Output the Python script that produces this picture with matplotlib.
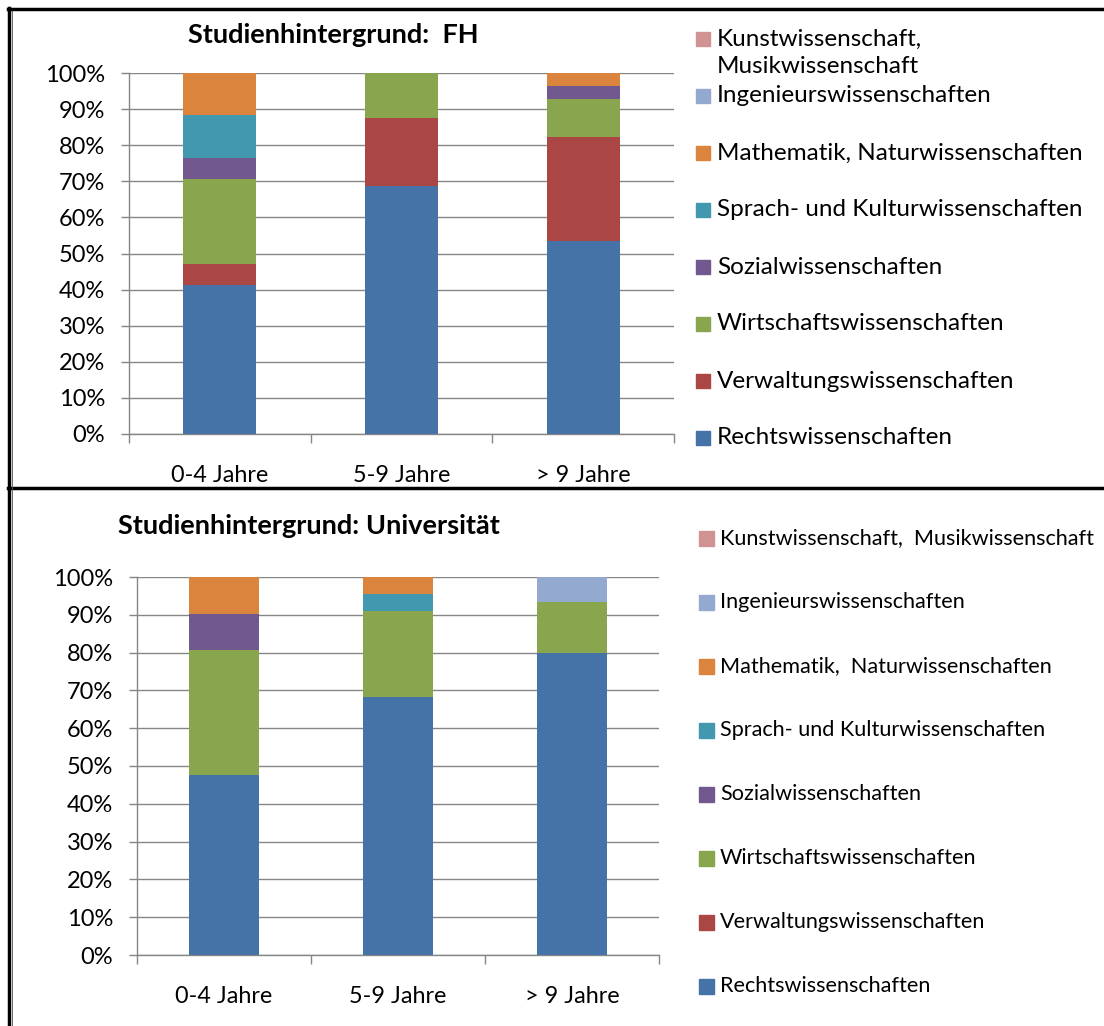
import matplotlib.pyplot as plt
import numpy as np
from matplotlib.patches import Rectangle
from matplotlib.lines import Line2D
from matplotlib.ticker import FixedLocator, PercentFormatter

plt.rcParams['font.family'] = ['Lato', 'DejaVu Sans']

# Studienhintergrund nach Berufserfahrung, Anteile in Prozent
gruppen = ["0-4 Jahre", "5-9 Jahre", "> 9 Jahre"]
faecher = ["Rechtswissenschaften", "Verwaltungswissenschaften",
           "Wirtschaftswissenschaften", "Sozialwissenschaften",
           "Sprach- und Kulturwissenschaften", "Mathematik, Naturwissenschaften",
           "Ingenieurswissenschaften", "Kunstwissenschaft, Musikwissenschaft"]
farben = ["#4572A7", "#AA4643", "#89A54E", "#71588F",
          "#4198AF", "#DB843D", "#93A9CF", "#D19392"]

# FH
fh_rechts = [41.2, 68.8, 53.6]
fh_verwaltung = [5.9, 18.7, 28.6]
fh_wirtschaft = [23.5, 12.5, 10.7]
fh_sozial = [5.9, 0.0, 3.6]
fh_sprache = [11.8, 0.0, 0.0]
fh_mathe = [11.7, 0.0, 3.5]
fh_ingenieur = [0.0, 0.0, 0.0]
fh_kunst = [0.0, 0.0, 0.0]

# Universität
uni_rechts = [47.6, 68.2, 80.0]
uni_verwaltung = [0.0, 0.0, 0.0]
uni_wirtschaft = [33.2, 22.7, 13.3]
uni_sozial = [9.5, 0.0, 0.0]
uni_sprache = [0.0, 4.5, 0.0]
uni_mathe = [9.7, 4.6, 0.0]
uni_ingenieur = [0.0, 0.0, 6.7]
uni_kunst = [0.0, 0.0, 0.0]

fh = [fh_rechts, fh_verwaltung, fh_wirtschaft, fh_sozial,
      fh_sprache, fh_mathe, fh_ingenieur, fh_kunst]
uni = [uni_rechts, uni_verwaltung, uni_wirtschaft, uni_sozial,
       uni_sprache, uni_mathe, uni_ingenieur, uni_kunst]

W, H = 1104, 1026
fig = plt.figure(figsize=(W / 100, H / 100), dpi=100)


def fx(px):
    return px / W


def fy(py):
    return 1 - py / H


def panel(rect, werte, titel, title_xy, legend_x, legend_y0, legend_step,
          labels, legend_fs, marker):
    ax = fig.add_axes(rect)
    x = np.arange(len(gruppen))
    unten = np.zeros(len(gruppen))
    for w, c in zip(werte, farben):
        ax.bar(x, w, 0.4, bottom=unten, color=c, zorder=3)
        unten += np.array(w)
    ax.set_xlim(-0.5, 2.5)
    ax.set_ylim(0, 100)
    ax.set_yticks(np.arange(0, 101, 10))
    ax.yaxis.set_major_formatter(PercentFormatter(decimals=0))
    ax.grid(axis='y', color='#868686', lw=1, zorder=0)
    ax.set_xticks(x)
    ax.set_xticklabels(gruppen)
    ax.xaxis.set_minor_locator(FixedLocator([-0.5, 0.5, 1.5, 2.5]))
    ax.tick_params(axis='x', which='major', length=0, pad=22, labelsize=16.8)
    ax.tick_params(axis='x', which='minor', length=6.2, color='#868686', width=1)
    ax.tick_params(axis='y', length=5.8, color='#868686', width=1, pad=11.5,
                   labelsize=17)
    for s in ['top', 'right']:
        ax.spines[s].set_visible(False)
    for s in ['left', 'bottom']:
        ax.spines[s].set_color('#868686')
        ax.spines[s].set_linewidth(1)
    fig.text(fx(title_xy[0]), fy(title_xy[1]), titel, ha='left', va='baseline',
             fontsize=19.5, fontweight='bold')

    # Legende, oberster Eintrag zuletzt
    for i, (lab, c) in enumerate(zip(labels, farben)):
        yc = legend_y0 + i * legend_step
        fig.add_artist(Rectangle((fx(legend_x), fy(yc + marker / 2)),
                                 marker / W, marker / H,
                                 color=c, transform=fig.transFigure))
        if "\n" in lab:
            fig.text(fx(legend_x + 21), fy(yc - 10), lab, va='top', ha='left',
                     fontsize=legend_fs, linespacing=1.35)
        else:
            fig.text(fx(legend_x + 21), fy(yc), lab, va='center', ha='left',
                     fontsize=legend_fs)
    return ax


fh_labels = faecher[:-1] + ["Kunstwissenschaft,\nMusikwissenschaft"]
uni_labels = [f.replace(", ", ",  ") for f in faecher]
panel([fx(129), fy(434), fx(674) - fx(129), fy(73) - fy(434)], fh,
      "Studienhintergrund:  FH", (188, 43), 696, 438, -57, fh_labels, 17.5, 14)
panel([fx(137), fy(955), fx(659) - fx(137), fy(577) - fy(955)], uni,
      "Studienhintergrund: Universität", (118, 534), 699, 986, -64, uni_labels,
      15.6, 15)

# Rahmen um beide Diagramme
rahmen = dict(color='black', lw=2.5, transform=fig.transFigure)
fig.add_artist(Line2D([fx(8), fx(1104)], [fy(9), fy(9)], **rahmen))
fig.add_artist(Line2D([fx(9), fx(9)], [fy(8), fy(1026)], **rahmen))
fig.add_artist(Line2D([fx(8), fx(1104)], [fy(488), fy(488)], **rahmen))
fig.add_artist(Line2D([fx(11.5), fx(11.5)], [fy(11), fy(1026)], color='#555555',
                      lw=0.6, transform=fig.transFigure))

fig.savefig("out.png", dpi=100)
